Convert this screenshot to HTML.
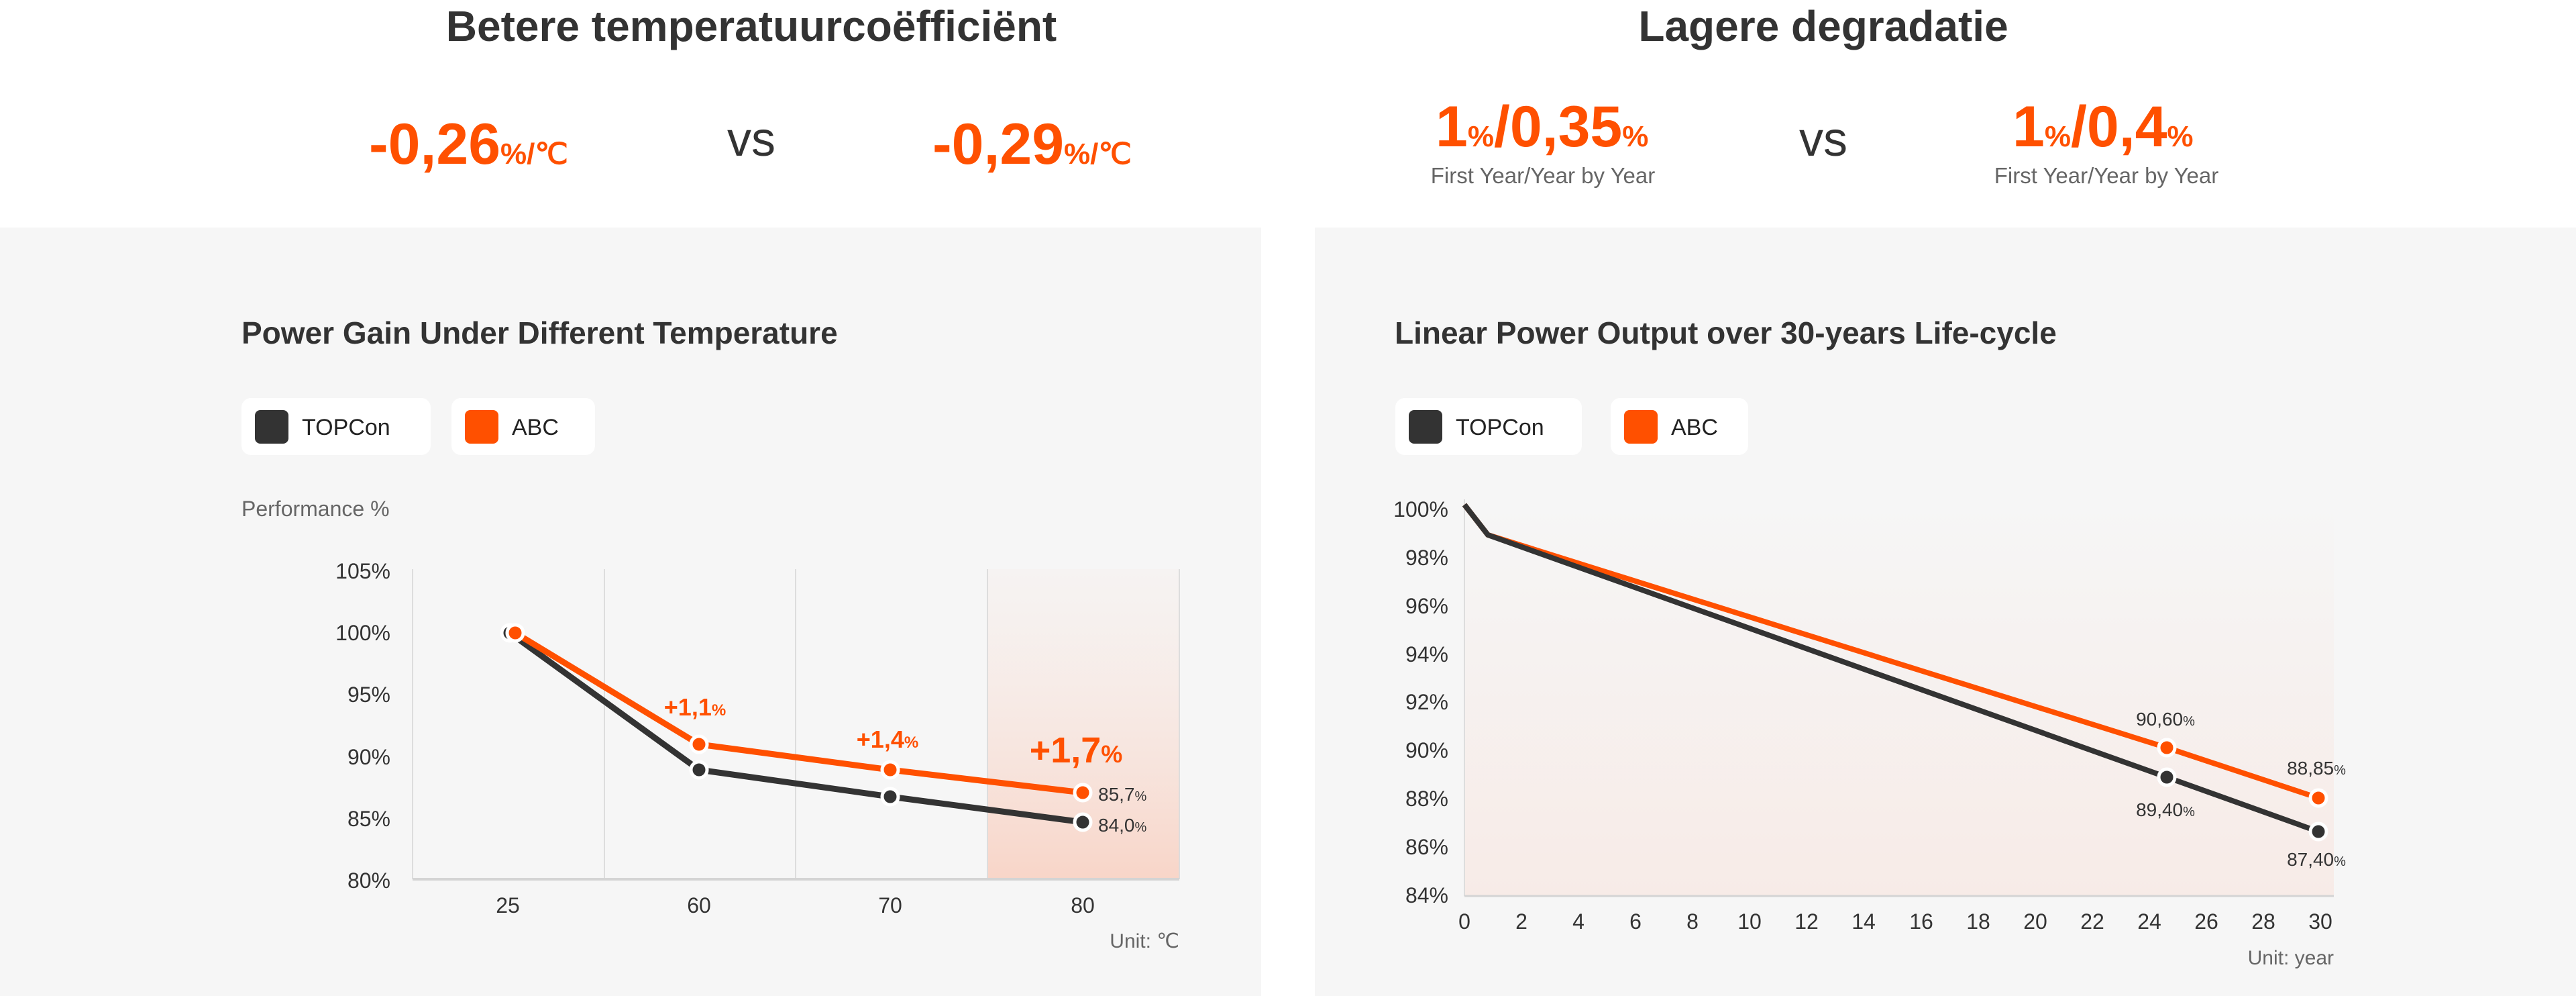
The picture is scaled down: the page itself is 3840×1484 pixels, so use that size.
<!DOCTYPE html>
<html><head><meta charset="utf-8"><style>
html,body{margin:0;padding:0;background:#fff;}
svg{display:block;font-family:"Liberation Sans",sans-serif;}
</style></head><body>
<svg width="3840" height="1484" viewBox="0 0 3840 1484" xmlns="http://www.w3.org/2000/svg">
<defs>
<linearGradient id="hl" x1="0" y1="0" x2="0" y2="1">
<stop offset="0" stop-color="#f7ece8" stop-opacity="0.3"/>
<stop offset="1" stop-color="#f8d5c8"/>
</linearGradient>
<linearGradient id="bg2" x1="0" y1="0" x2="0" y2="1">
<stop offset="0" stop-color="#f6f6f6"/>
<stop offset="1" stop-color="#f7ebe7"/>
</linearGradient>
</defs>
<rect width="3840" height="1484" fill="#fff"/>
<rect x="0" y="339" width="1880" height="1145" fill="#f6f6f6"/>
<rect x="1960" y="339" width="1880" height="1145" fill="#f6f6f6"/>

<g fill="#333" font-weight="bold" font-size="64" text-anchor="middle">
<text x="1120" y="61">Betere temperatuurcoëfficiënt</text>
<text x="2718" y="61">Lagere degradatie</text>
</g>
<g fill="#ff5000" font-weight="bold">
<text x="550" y="244" font-size="86">-0,26<tspan font-size="44">%/℃</tspan></text>
<text x="1390" y="244" font-size="86">-0,29<tspan font-size="44">%/℃</tspan></text>
<text x="2140" y="218" font-size="86">1<tspan font-size="44">%</tspan>/0,35<tspan font-size="44">%</tspan></text>
<text x="3000" y="218" font-size="86">1<tspan font-size="44">%</tspan>/0,4<tspan font-size="44">%</tspan></text>
</g>
<g fill="#333" font-size="72" text-anchor="middle">
<text x="1120" y="232">vs</text>
<text x="2718" y="232">vs</text>
</g>
<g fill="#666" font-size="33" text-anchor="middle">
<text x="2300" y="273">First Year/Year by Year</text>
<text x="3140" y="273">First Year/Year by Year</text>
</g>

<!-- LEFT CHART -->
<text x="360" y="512" font-size="46" font-weight="bold" fill="#333">Power Gain Under Different Temperature</text>
<rect x="360" y="593" width="282" height="85" rx="14" fill="#fff"/>
<rect x="380" y="611" width="50" height="50" rx="8" fill="#333"/>
<text x="450" y="648" font-size="34" fill="#222">TOPCon</text>
<rect x="673" y="593" width="214" height="85" rx="14" fill="#fff"/>
<rect x="693" y="611" width="50" height="50" rx="8" fill="#ff5000"/>
<text x="763" y="648" font-size="34" fill="#222">ABC</text>
<text x="360" y="769" font-size="32" fill="#666">Performance %</text>

<rect x="1472" y="848" width="286" height="462" fill="url(#hl)"/>
<g stroke="#ddd" stroke-width="2">
<line x1="615" y1="848" x2="615" y2="1310"/>
<line x1="901" y1="848" x2="901" y2="1310"/>
<line x1="1186" y1="848" x2="1186" y2="1310"/>
<line x1="1472" y1="848" x2="1472" y2="1310"/>
<line x1="1758" y1="848" x2="1758" y2="1310"/>
</g>
<line x1="615" y1="1310" x2="1758" y2="1310" stroke="#d4d4d4" stroke-width="4"/>
<g font-size="32" fill="#333" text-anchor="end">
<text x="582" y="862">105%</text>
<text x="582" y="954">100%</text>
<text x="582" y="1046">95%</text>
<text x="582" y="1139">90%</text>
<text x="582" y="1231">85%</text>
<text x="582" y="1323">80%</text>
</g>
<g font-size="32" fill="#333" text-anchor="middle">
<text x="757" y="1360">25</text>
<text x="1042" y="1360">60</text>
<text x="1327" y="1360">70</text>
<text x="1614" y="1360">80</text>
</g>
<text x="1758" y="1412" font-size="30" fill="#666" text-anchor="end">Unit: ℃</text>

<polyline points="760,943 1042,1147 1327,1187 1614,1225" fill="none" stroke="#333" stroke-width="9" stroke-linejoin="round"/>
<polyline points="768,943 1042,1109 1327,1147 1614,1181" fill="none" stroke="#ff5000" stroke-width="9" stroke-linejoin="round"/>
<g stroke="#fff" stroke-width="5">
<circle cx="760" cy="943" r="12" fill="#333"/>
<circle cx="1042" cy="1147" r="12" fill="#333"/>
<circle cx="1327" cy="1187" r="12" fill="#333"/>
<circle cx="1614" cy="1225" r="12" fill="#333"/>
<circle cx="768" cy="943" r="12" fill="#ff5000"/>
<circle cx="1042" cy="1109" r="12" fill="#ff5000"/>
<circle cx="1327" cy="1147" r="12" fill="#ff5000"/>
<circle cx="1614" cy="1181" r="12" fill="#ff5000"/>
</g>
<g fill="#ff5000" font-weight="bold" text-anchor="middle">
<text x="1036" y="1066" font-size="36">+1,1<tspan font-size="24">%</tspan></text>
<text x="1323" y="1114" font-size="36">+1,4<tspan font-size="24">%</tspan></text>
<text x="1604" y="1136" font-size="54">+1,7<tspan font-size="36">%</tspan></text>
</g>
<g fill="#333" font-size="28">
<text x="1637" y="1193">85,7<tspan font-size="20">%</tspan></text>
<text x="1637" y="1239">84,0<tspan font-size="20">%</tspan></text>
</g>

<!-- RIGHT CHART -->
<text x="2079" y="512" font-size="46" font-weight="bold" fill="#333">Linear Power Output over 30-years Life-cycle</text>
<rect x="2080" y="593" width="278" height="85" rx="14" fill="#fff"/>
<rect x="2100" y="611" width="50" height="50" rx="8" fill="#333"/>
<text x="2170" y="648" font-size="34" fill="#222">TOPCon</text>
<rect x="2401" y="593" width="205" height="85" rx="14" fill="#fff"/>
<rect x="2421" y="611" width="50" height="50" rx="8" fill="#ff5000"/>
<text x="2491" y="648" font-size="34" fill="#222">ABC</text>

<rect x="2183" y="744" width="1296" height="591" fill="url(#bg2)"/>
<line x1="2183" y1="744" x2="2183" y2="1335" stroke="#ddd" stroke-width="2"/>
<line x1="2183" y1="1335" x2="3479" y2="1335" stroke="#d4d4d4" stroke-width="3"/>
<g font-size="32" fill="#333" text-anchor="end">
<text x="2159" y="770">100%</text>
<text x="2159" y="842">98%</text>
<text x="2159" y="914">96%</text>
<text x="2159" y="986">94%</text>
<text x="2159" y="1057">92%</text>
<text x="2159" y="1129">90%</text>
<text x="2159" y="1201">88%</text>
<text x="2159" y="1273">86%</text>
<text x="2159" y="1345">84%</text>
</g>
<g font-size="32" fill="#333" text-anchor="middle">
<text x="2183" y="1384">0</text><text x="2268" y="1384">2</text><text x="2353" y="1384">4</text>
<text x="2438" y="1384">6</text><text x="2523" y="1384">8</text><text x="2608" y="1384">10</text>
<text x="2693" y="1384">12</text><text x="2778" y="1384">14</text><text x="2864" y="1384">16</text>
<text x="2949" y="1384">18</text><text x="3034" y="1384">20</text><text x="3119" y="1384">22</text>
<text x="3204" y="1384">24</text><text x="3289" y="1384">26</text><text x="3374" y="1384">28</text>
<text x="3459" y="1384">30</text>
</g>
<text x="3479" y="1437" font-size="30" fill="#666" text-anchor="end">Unit: year</text>

<polyline points="2183,752 2218,797 3230,1114 3456,1189" fill="none" stroke="#ff5000" stroke-width="8" stroke-linejoin="round"/>
<polyline points="2183,752 2218,797 3230,1158 3456,1239" fill="none" stroke="#333" stroke-width="8" stroke-linejoin="round"/>
<g stroke="#fff" stroke-width="5">
<circle cx="3230" cy="1114" r="12" fill="#ff5000"/>
<circle cx="3456" cy="1189" r="12" fill="#ff5000"/>
<circle cx="3230" cy="1158" r="12" fill="#333"/>
<circle cx="3456" cy="1239" r="12" fill="#333"/>
</g>
<g fill="#333" font-size="28" text-anchor="middle">
<text x="3228" y="1081">90,60<tspan font-size="20">%</tspan></text>
<text x="3453" y="1154">88,85<tspan font-size="20">%</tspan></text>
<text x="3228" y="1216">89,40<tspan font-size="20">%</tspan></text>
<text x="3453" y="1290">87,40<tspan font-size="20">%</tspan></text>
</g>
</svg>
</body></html>
